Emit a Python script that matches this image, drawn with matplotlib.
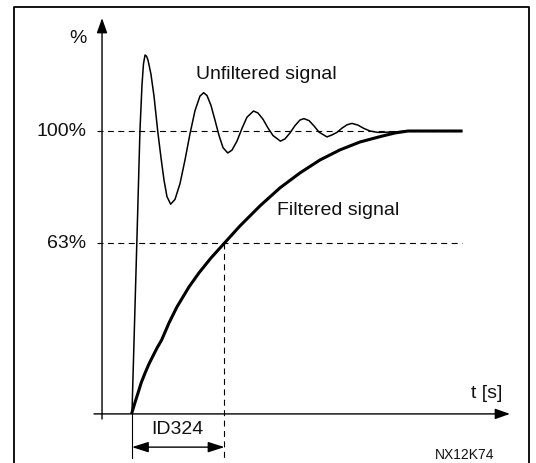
import matplotlib
matplotlib.use("Agg")
import matplotlib.pyplot as plt
from matplotlib.lines import Line2D

plt.rcParams['font.family'] = ['Liberation Sans', 'DejaVu Sans']
plt.rcParams['lines.scale_dashes'] = False

# time in units of the filter time constant (ID324), signal in %
t_unf = [0, 0.054, 0.086, 0.108, 0.124, 0.141, 0.157, 0.173, 0.205, 0.238,
         0.278, 0.314, 0.346, 0.378, 0.418, 0.465, 0.519, 0.573, 0.627, 0.681,
         0.735, 0.775, 0.811, 0.854, 0.897, 0.941, 0.984, 1.035, 1.081, 1.135,
         1.189, 1.243, 1.314, 1.362, 1.416, 1.470, 1.524, 1.605, 1.654, 1.708,
         1.762, 1.816, 1.859, 1.914, 1.968, 2.022, 2.108, 2.162, 2.216, 2.270,
         2.324, 2.378, 2.443, 2.508, 2.573, 2.659, 2.789, 2.897, 2.984, 3.557]
y_unf = [0, 62.3, 100.0, 116.3, 123.8, 127.0, 126.6, 125.2, 120.2, 112.4,
         100.0, 90.4, 82.6, 76.7, 74.0, 75.7, 81.3, 89.7, 99.0, 107.2,
         112.4, 113.6, 112.6, 109.1, 103.9, 98.4, 94.1, 92.2, 93.2, 96.4,
         100.9, 104.9, 107.1, 106.4, 104.2, 101.1, 98.4, 96.4, 97.2, 99.3,
         101.9, 103.9, 104.4, 103.7, 101.8, 99.6, 97.9, 98.6, 99.5, 101.0,
         102.2, 102.7, 102.1, 100.9, 100.0, 99.5, 99.6, 99.8, 100.0, 100.0]

t_filt = [0, 0.032, 0.065, 0.100, 0.141, 0.183, 0.227, 0.272, 0.321, 0.400,
          0.486, 0.616, 0.724, 0.854, 1.000, 1.168, 1.384, 1.600, 1.816, 2.032,
          2.249, 2.465, 2.681, 2.843, 2.984, 3.557]
y_filt = [0, 3.5, 6.9, 10.6, 14.0, 17.2, 20.1, 23.0, 25.8, 31.8,
          37.5, 44.6, 49.6, 54.9, 60.2, 66.3, 73.4, 79.8, 85.1, 89.7,
          93.3, 96.1, 98.0, 99.3, 100.0, 100.0]

level_vals = [100.0, 60.2]
level_labels = ['100%', '63%']
tau = 1.0
tau_label = 'ID324'

fig = plt.figure(figsize=(5.36, 4.63), dpi=100)
ax = fig.add_axes([0, 0, 1, 1])
ax.set_xlim(-1.427, 4.368)
ax.set_ylim(-17.94, 146.54)
ax.axis('off')

# frame around the picture
W, H = 536.0, 463.0
fig.add_artist(Line2D([14 / W, 14 / W, 529 / W, 529 / W],
                      [0, 1 - 7 / H, 1 - 7 / H, 0],
                      transform=fig.transFigure, color='black', lw=1.3))

# axes with arrows
head = dict(arrowstyle='-|>,head_length=0.45,head_width=0.16', color='black',
            lw=1.0, shrinkA=0, shrinkB=0, mutation_scale=20)
ax.annotate('', xy=(-0.324, 140.1), xytext=(-0.324, -2.3), arrowprops=head)
ax.annotate('', xy=(4.086, -0.5), xytext=(-0.411, -0.5), arrowprops=head)

# reference levels
for v, lab in zip(level_vals, level_labels):
    ax.plot([-0.378, 3.568], [v, v], color='black', lw=0.8, ls=(0, (4.3, 3.2)))
    ax.text(-0.497, v, lab, ha='right', va='center', fontsize=14,
            color='#111111')

# time constant marker
ax.plot([tau, tau], [level_vals[1], -16.2], color='black', lw=0.8,
        ls=(0, (4.3, 3.2)))
ax.plot([0, 0], [-0.5, -16.2], color='black', lw=0.8)
ax.annotate('', xy=(tau, -12.3), xytext=(0, -12.3),
            arrowprops=dict(arrowstyle='<|-|>,head_length=0.5,head_width=0.16',
                            color='black', lw=1.0, shrinkA=0, shrinkB=0,
                            mutation_scale=20))
ax.text(tau / 2 - 0.014, -6.2, tau_label, ha='center', va='center',
        fontsize=14, color='#111111')

# signals
ax.plot(t_unf, y_unf, color='black', lw=1.1, solid_joinstyle='round')
ax.plot(t_filt, y_filt, color='black', lw=2.2, solid_joinstyle='round')

ax.text(0.692, 119.9, 'Unfiltered signal', ha='left', va='center',
        fontsize=14, color='#111111')
ax.text(1.568, 71.9, 'Filtered signal', ha='left', va='center',
        fontsize=14, color='#111111')
ax.text(-0.584, 132.7, '%', ha='center', va='center', fontsize=14,
        color='#111111')
ax.text(4.0, 6.9, 't [s]', ha='right', va='center', fontsize=14,
        color='#111111')
ax.text(3.6, -15.0, 'NX12K74', ha='center', va='center', fontsize=10,
        color='#111111')

fig.savefig('out.png', dpi=100)
